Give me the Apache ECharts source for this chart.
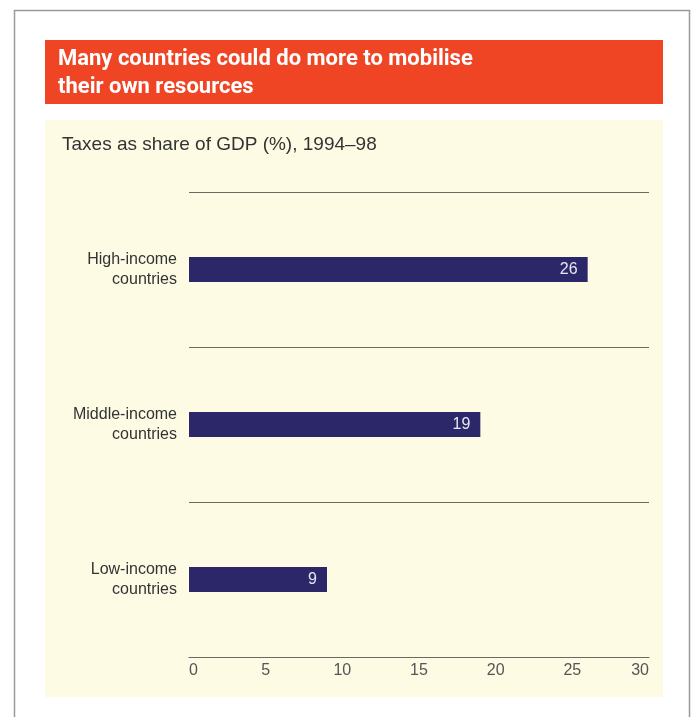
<!DOCTYPE html>
<html>
<head>
<meta charset="utf-8">
<script src="https://cdn.jsdelivr.net/npm/echarts@6/dist/echarts.min.js"></script>
<style>
  html, body { margin: 0; padding: 0; background: #fff; }
  #chart { width: 693px; height: 717px; }
</style>
</head>
<body>
<div id="chart"></div>
<script>
// data
const categories = ['Low-income\ncountries', 'Middle-income\ncountries', 'High-income\ncountries']
const taxShare = [9, 19, 26]
const tickLabels = ['0', '5', '10', '15', '20', '25', '30']

const chart = echarts.init(document.getElementById('chart'))

chart.setOption({
  animation: false,
  backgroundColor: '#ffffff',
  graphic: [
    // outer frame
    {
      type: 'rect',
      shape: { x: 14.5, y: 10.5, width: 675, height: 720 },
      style: { fill: 'none', stroke: '#9a9a9a', lineWidth: 1.5 },
      z: 0,
    },
    // red title box
    {
      type: 'rect',
      shape: { x: 45, y: 40, width: 618, height: 64 },
      style: { fill: '#ef4524' },
      z: 0,
    },
    // cream panel
    {
      type: 'rect',
      shape: { x: 45, y: 120, width: 618, height: 577 },
      style: { fill: '#fdfbe4' },
      z: 0,
    },
  ],
  title: [
    {
      text: 'Many countries could do more to mobilise\ntheir own resources',
      left: 53,
      top: 40,
      textStyle: {
        color: '#ffffff',
        fontFamily: 'Roboto, sans-serif',
        fontWeight: 'bold',
        fontSize: 22,
        lineHeight: 28,
      },
    },
    {
      text: 'Taxes as share of GDP (%), 1994–98',
      left: 57,
      top: 130,
      textStyle: {
        color: '#333333',
        fontFamily: 'Liberation Sans, Arial, sans-serif',
        fontWeight: 'normal',
        fontSize: 19,
      },
    },
  ],
  grid: {
    left: 189,
    right: 44,
    top: 192,
    bottom: 60,
  },
  xAxis: {
    type: 'value',
    min: 0,
    max: 30,
    interval: 5,
    axisLine: { show: true, lineStyle: { color: '#6a6a60', width: 1.2 } },
    axisTick: { show: false },
    splitLine: { show: false },
    axisLabel: {
      color: '#555555',
      fontFamily: 'Liberation Sans, Arial, sans-serif',
      fontSize: 16,
      margin: 6,
      alignMinLabel: 'left',
      alignMaxLabel: 'right',
      formatter: (v) => tickLabels[Math.round(v / 5)],
    },
  },
  yAxis: {
    type: 'category',
    data: categories,
    axisLine: { show: false },
    axisTick: { show: false },
    splitLine: { show: true, lineStyle: { color: '#6a6a60', width: 1.2 } },
    axisLabel: {
      color: '#333333',
      fontFamily: 'Liberation Sans, Arial, sans-serif',
      fontSize: 16,
      lineHeight: 20,
      margin: 12,
      align: 'right',
    },
  },
  series: [
    {
      type: 'bar',
      data: taxShare,
      barWidth: 25,
      itemStyle: { color: '#2c2769' },
      label: {
        show: true,
        position: 'insideRight',
        distance: 10,
        color: '#e8e6f0',
        fontFamily: 'Liberation Sans, Arial, sans-serif',
        fontSize: 16,
      },
    },
  ],
})
</script>
</body>
</html>
